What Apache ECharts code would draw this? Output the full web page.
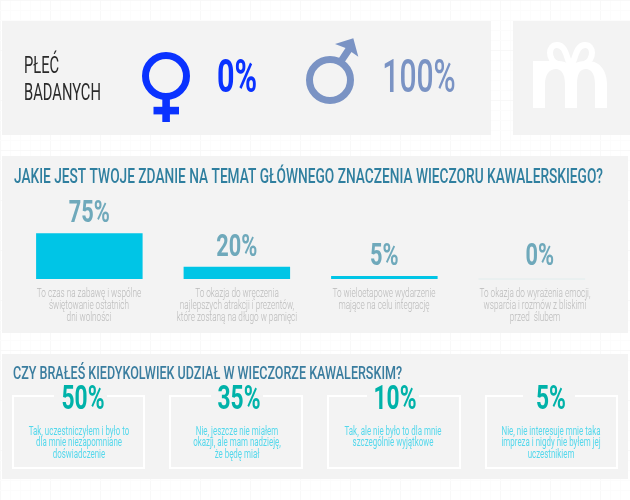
<!DOCTYPE html>
<html><head><meta charset="utf-8">
<style>html,body{margin:0;padding:0;background:#fff}#c{width:630px;height:500px}</style>
<script src="https://cdn.jsdelivr.net/npm/echarts@6/dist/echarts.min.js"></script>
</head><body><div id="c"></div>
<script>
const genderLabels = ['0%', '100%'];
const sideTitle = 'PŁEĆ\nBADANYCH';
const q1Title = 'JAKIE JEST TWOJE ZDANIE NA TEMAT GŁÓWNEGO ZNACZENIA WIECZORU KAWALERSKIEGO?';
const q1Values = [75, 20, 5, 0];
const q1Texts = [
  'To czas na zabawę i wspólne\nświętowanie ostatnich\ndni wolności',
  'To okazja do wręczenia\nnajlepszych atrakcji i prezentów,\nktóre zostaną na długo w pamięci',
  'To wieloetapowe wydarzenie\nmające na celu integrację',
  'To okazja do wyrażenia emocji,\nwsparcia i rozmów z bliskimi\nprzed  ślubem'
];
const q2Title = 'CZY BRAŁEŚ KIEDYKOLWIEK UDZIAŁ W WIECZORZE KAWALERSKIM?';
const q2Values = [50, 35, 10, 5];
const q2Texts = [
  'Tak, uczestniczyłem i było to\ndla mnie niezapomniane\ndoświadczenie',
  'Nie, jeszcze nie miałem\nokazji, ale mam nadzieję,\nże będę miał',
  'Tak, ale nie było to dla mnie\nszczególnie wyjątkowe',
  'Nie, nie interesuje mnie taka\nimpreza i nigdy nie byłem jej\nuczestnikiem'
];

const F = 'Roboto';
const panel = '#f3f3f3';
const g = [];
for (let x = 0; x <= 630; x += 10) g.push({type:'line', z:0, shape:{x1:x+.5,y1:0,x2:x+.5,y2:500}, style:{stroke:x%50===0?'#f8f8f8':'#fcfcfc',lineWidth:1}});
for (let y = 0; y <= 500; y += 10) g.push({type:'line', z:0, shape:{x1:0,y1:y+.5,x2:630,y2:y+.5}, style:{stroke:y%50===0?'#f8f8f8':'#fcfcfc',lineWidth:1}});
[[2,21,489,114],[513,21,117,114],[2,156,626,177],[2,354,626,125]].forEach(r =>
  g.push({type:'rect', z:1, shape:{x:r[0],y:r[1],width:r[2],height:r[3]}, style:{fill:panel}}));

function txt(text, x, y, size, weight, fill, sx, lh, align, va) {
  return {type:'text', z:5, x, y, scaleX:sx, originX:0, originY:0,
    style:{text, fill, align:align||'center', verticalAlign:va||'middle', lineHeight:lh||undefined,
      font:weight+' '+size+'px '+F}};
}
const meas = document.createElement('canvas').getContext('2d');
function fitScale(text, font, target){ meas.font = font; return target / meas.measureText(text).width; }

g.push(txt(sideTitle, 24, 80.5, 23, 400, '#2a2a2a', .64, 27, 'left'));
const blue='#0a32ff', mars='#7a93c4';
g.push({type:'circle', z:5, shape:{cx:166,cy:76,r:20.5}, style:{fill:'none',stroke:blue,lineWidth:7}});
g.push({type:'rect', z:5, shape:{x:162.3,y:99,width:7.6,height:23}, style:{fill:blue}});
g.push({type:'rect', z:5, shape:{x:153.5,y:106.8,width:25.5,height:7.6}, style:{fill:blue}});
g.push(txt(genderLabels[0], 237, 80.5, 47, 700, blue, .65));
g.push({type:'circle', z:5, shape:{cx:330,cy:80,r:20.5}, style:{fill:'none',stroke:mars,lineWidth:7}});
g.push({type:'polygon', z:5, shape:{points:[[335,44],[353.3,38.3],[358.3,56.7],[351.5,52],[344,63],[338,59.5],[345.5,48]]}, style:{fill:mars}});
g.push(txt(genderLabels[1], 419, 80.5, 47, 500, mars, .64));

g.push(txt(q1Title, 14, 177.5, 20, 500, '#2f7f9f', fitScale(q1Title,'500 20px '+F,589), 0, 'left'));
g.push(txt(q2Title, 13, 374.5, 18, 500, '#3a7d9f', fitScale(q2Title,'500 18px '+F,389), 0, 'left'));

const q1Cx = [89, 237, 384, 535];
q1Texts.forEach((s,i) => g.push(txt(s, q1Cx[i], 287.5, 13, 300, '#b9b9b9', .63, 12, 'center', 'top')));
const boxes = [[12,145,54,107,83],[169,303,211,263,239],[327,461,367,419,395],[485,618,523,575,551]];
const boxTextCx = [79,237,393,551];
boxes.forEach((b,i) => {
  g.push({type:'polyline', z:4, shape:{points:[[b[2],396],[b[0]+1,396],[b[0]+1,468],[b[1]-1,468],[b[1]-1,396],[b[3],396]]}, style:{fill:'none',stroke:'#fff',lineWidth:2}});
  g.push(txt(q2Values[i]+'%', b[4], 400.5, 33, 700, '#00b2a9', .69));
  g.push(txt(q2Texts[i], boxTextCx[i], 425.5, 13, 400, '#55d8ec', .61, 11.5, 'center', 'top'));
});

const chart = echarts.init(document.getElementById('c'), null, {renderer:'canvas'});
const labelDx = [0, 0, 0, 8], labelDy = [3, 3, 3, 6];
const giftBody = 'M533 61H556C564 61 569 63 571 66C573 63 579 61 588 61C600 61 607 71 607 84V108H595V84C595 74 591 69 586 69C580 69 577 74 577 84V108H565V84C565 74 561 69 556 69C550 69 545 74 545 84V108H533Z';
const giftBow = 'M571 64C566 58 566 45 556 45C546 45 546 58 556 62M571 64C576 58 576 45 586 45C596 45 596 58 586 62';
chart.setOption({
  animation:false,
  graphic:{elements:g},
  grid:{left:15.6,width:590,top:218,height:61,containLabel:false},
  xAxis:{type:'category',data:q1Values.map((_,i)=>i),show:false},
  yAxis:{type:'value',min:0,max:100,show:false},
  series:[
    {type:'bar',z:6,barWidth:106.5,silent:true,
     data:q1Values.map(v=>({value:v,itemStyle:{color:v?'#00c5e6':'#e6efef',borderColor:v?'#00c5e6':'#e6efef',borderWidth:v?0:1}}))},
    {type:'custom',z:7,silent:true,coordinateSystem:'cartesian2d',
     data:q1Values.map((v,i)=>[i,v]),
     renderItem:(p,api)=>{
       const i=api.value(0), v=api.value(1), pt=api.coord([i,v]);
       return {type:'text',x:pt[0]+labelDx[i],y:pt[1]-labelDy[i],scaleX:.68,
         style:{text:v+'%',fill:'#6fa9bb',align:'center',verticalAlign:'bottom',font:'700 32px '+F}};
     }},
    {type:'custom',z:7,silent:true,coordinateSystem:'none',data:[0],
     renderItem:()=>({type:'group',children:[
       {type:'path',shape:{pathData:giftBody,x:533,y:61,width:74,height:47,layout:'cover'},style:{fill:'#fff'}},
       {type:'path',shape:{pathData:giftBow,x:550,y:45,width:42,height:21,layout:'cover'},style:{fill:'none',stroke:'#fff',lineWidth:6}}
     ]})}
  ]
});
</script></body></html>
